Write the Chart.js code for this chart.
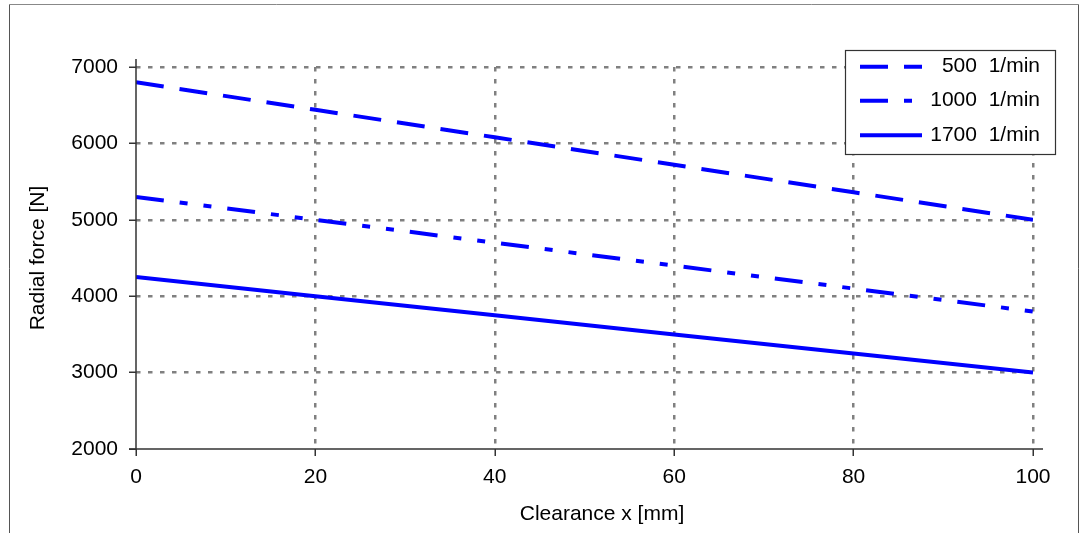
<!DOCTYPE html>
<html>
<head>
<meta charset="utf-8">
<script src="https://cdn.jsdelivr.net/npm/chart.js@4/dist/chart.umd.min.js"></script>
<style>
  body { margin: 0; background: #fff; }
  #wrap { width: 1081px; height: 533px; position: relative; }
</style>
</head>
<body>
<div id="wrap"><canvas id="force-chart"></canvas></div>
<script>
// values
var clearance = [0, 20, 40, 60, 80, 100];
var force500 = [6800, 6440, 6080, 5720, 5360, 5000];
var force1000 = [5300, 5000, 4700, 4400, 4100, 3800];
var force1700 = [4250, 4000, 3750, 3500, 3250, 3000];
var seriesLabels = ["500  1/min", "1000  1/min", "1700  1/min"];
var xTicks = [0, 20, 40, 60, 80, 100];
var yTicks = [2000, 3000, 4000, 5000, 6000, 7000];
var xTitle = "Clearance x [mm]";
var yTitle = "Radial force [N]";

var FONT = "'Liberation Sans', Arial, sans-serif";
var BLUE = "#0000ff";
var DASH_500 = [28, 16];
var DASH_1000 = [28, 16, 8, 16, 8, 16];

function toPoints(ys) {
    return clearance.map(function (x, i) { return {x: x, y: ys[i]}; });
}

function gridColor(ctx) {
    return ctx.index === 0 ? "rgba(0,0,0,0)" : "#808080";
}

// frame, axis lines, axis titles and boxed legend
var decorations = {
    id: "decorations",
    afterDraw: function (chart) {
        var c = chart.ctx;
        var a = chart.chartArea;
        c.save();

        // outer frame
        c.lineWidth = 1;
        c.strokeStyle = "#888";
        c.beginPath();
        c.moveTo(9.5, 4.5); c.lineTo(1078.5, 4.5);
        c.stroke();
        c.strokeStyle = "#555";
        c.beginPath();
        c.moveTo(9.5, 4.5); c.lineTo(9.5, 533);
        c.moveTo(1078.5, 4.5); c.lineTo(1078.5, 533);
        c.stroke();

        // axis lines, a bit longer than the plot area
        c.strokeStyle = "#333";
        c.lineWidth = 1.5;
        c.beginPath();
        c.moveTo(a.left, a.top - 8); c.lineTo(a.left, a.bottom);
        c.moveTo(a.left - 7, a.bottom); c.lineTo(a.right + 10, a.bottom);
        c.stroke();

        // axis titles
        c.fillStyle = "#000";
        c.font = "21px " + FONT;
        c.textAlign = "center";
        c.textBaseline = "middle";
        c.fillText(xTitle, 602, 514);
        c.save();
        c.translate(38, (a.top + a.bottom) / 2);
        c.rotate(-Math.PI / 2);
        c.fillText(yTitle, 0, 0);
        c.restore();

        // legend box
        var bx = 845.5, by = 50.5, bw = 210, bh = 104;
        c.fillStyle = "#fff";
        c.fillRect(bx, by, bw, bh);
        c.strokeStyle = "#333";
        c.lineWidth = 1.2;
        c.strokeRect(bx, by, bw, bh);

        var rows = [66.7, 100.7, 135.3];
        chart.data.datasets.forEach(function (ds, i) {
            var y = rows[i];
            c.strokeStyle = ds.borderColor;
            c.lineWidth = ds.borderWidth;
            c.setLineDash(ds.borderDash || []);
            c.lineCap = "butt";
            c.beginPath();
            c.moveTo(860, y); c.lineTo(922, y);
            c.stroke();
            c.setLineDash([]);
            c.fillStyle = "#000";
            c.textAlign = "right";
            c.textBaseline = "middle";
            c.fillText(ds.label, 1040, y);
        });
        c.restore();
    }
};

new Chart(document.getElementById("force-chart"), {
    type: "line",
    data: {
        datasets: [{
            label: seriesLabels[0],
            data: toPoints(force500),
            borderColor: BLUE,
            borderWidth: 4,
            borderDash: DASH_500
        }, {
            label: seriesLabels[1],
            data: toPoints(force1000),
            borderColor: BLUE,
            borderWidth: 4,
            borderDash: DASH_1000
        }, {
            label: seriesLabels[2],
            data: toPoints(force1700),
            borderColor: BLUE,
            borderWidth: 4
        }]
    },
    options: {
        responsive: true,
        maintainAspectRatio: false,
        animation: false,
        events: [],
        elements: {
            point: {radius: 0},
            line: {tension: 0, borderCapStyle: "butt", fill: false}
        },
        layout: {padding: {left: 0, top: 67, right: 48, bottom: 0}},
        plugins: {
            legend: {display: false},
            tooltip: {enabled: false}
        },
        scales: {
            x: {
                type: "linear",
                min: 0,
                max: 100,
                afterFit: function (s) { s.height = 84; },
                afterBuildTicks: function (s) {
                    s.ticks = xTicks.map(function (v) { return {value: v}; });
                },
                grid: {
                    color: gridColor,
                    lineWidth: 2.5,
                    borderDash: [4.5, 7.5],
                    tickLength: 7,
                    tickColor: "#333",
                    tickWidth: 1.5,
                    tickBorderDash: []
                },
                border: {display: false, dash: [4.5, 7.5]},
                ticks: {
                    color: "#000",
                    font: {family: FONT, size: 21},
                    padding: 9,
                    maxRotation: 0
                }
            },
            y: {
                type: "linear",
                min: 2000,
                max: 7000,
                afterFit: function (s) { s.width = 136; },
                afterBuildTicks: function (s) {
                    s.ticks = yTicks.map(function (v) { return {value: v}; });
                },
                grid: {
                    color: gridColor,
                    lineWidth: 2.5,
                    borderDash: [4.5, 7.5],
                    tickLength: 7,
                    tickColor: "#333",
                    tickWidth: 1.5,
                    tickBorderDash: []
                },
                border: {display: false, dash: [4.5, 7.5]},
                ticks: {
                    color: "#000",
                    font: {family: FONT, size: 21},
                    padding: 11,
                    callback: function (v) { return String(v); }
                }
            }
        }
    },
    plugins: [decorations]
});
</script>
</body>
</html>
